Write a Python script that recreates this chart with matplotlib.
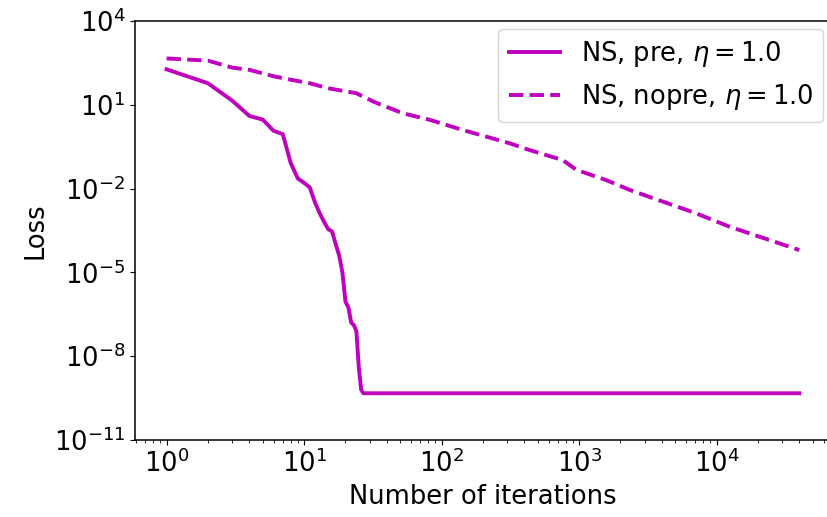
import matplotlib
matplotlib.use("Agg")
import matplotlib.pyplot as plt
from matplotlib.ticker import NullLocator

fontsize = 18.5
plt.rcParams['font.size'] = fontsize
plt.rcParams['axes.linewidth'] = 1.1

# NS with preconditioning
pre_iters = [1, 2, 3, 4, 5, 6, 7, 8, 9, 10, 11, 12, 13, 14, 15, 16, 17, 18, 19,
             20, 21, 22, 23, 24, 25, 26, 27, 40000]
pre_loss = [186, 58.9, 14.1, 3.98, 2.95, 1.17, 0.89, 8.1e-2, 2.3e-2, 1.6e-2,
            1.1e-2, 3.2e-3, 1.3e-3, 6.3e-4, 3.5e-4, 2.9e-4, 1.0e-4, 4.0e-5, 1.0e-5,
            8.9e-7, 5.6e-7, 1.6e-7, 1.3e-7, 7.9e-8, 4.0e-9, 6.3e-10, 4.7e-10, 4.7e-10]

# NS without preconditioning
nopre_iters = [1, 2, 3, 4, 6, 8, 11, 15, 24, 32, 52, 82, 142, 312, 436, 760,
               955, 1580, 2340, 7100, 12300, 40000]
nopre_loss = [457, 380, 214, 178, 105, 79, 59, 39, 26, 12.9, 5.0, 2.9, 1.26,
              0.42, 0.24, 0.105, 0.047, 0.020, 8.9e-3, 1.3e-3, 4.4e-4, 6.3e-5]

y_ticks = [1e-11, 1e-8, 1e-5, 1e-2, 1e1, 1e4]

fig = plt.figure(figsize=(8.28, 5.17), dpi=100)
ax = fig.add_axes([0.163, 0.149, 0.8406, 0.8104])

ax.plot(pre_iters, pre_loss, color="m", linewidth=2.8, linestyle="-",
        label=r"NS, pre, $\eta = 1.0$")
ax.plot(nopre_iters, nopre_loss, color="m", linewidth=2.8, linestyle="--",
        label=r"NS, nopre, $\eta = 1.0$")

ax.set_xscale("log")
ax.set_yscale("log")
ax.set_ylim(1e-11, 1e4)
ax.set_yticks(y_ticks)
ax.yaxis.set_minor_locator(NullLocator())
ax.set_xlabel("Number of iterations", fontsize=fontsize)
ax.set_ylabel("Loss", fontsize=fontsize)
ax.tick_params(labelsize=fontsize)
ax.legend(loc="upper right", fontsize=fontsize, borderaxespad=0.3)

fig.savefig("out.png", dpi=100)
